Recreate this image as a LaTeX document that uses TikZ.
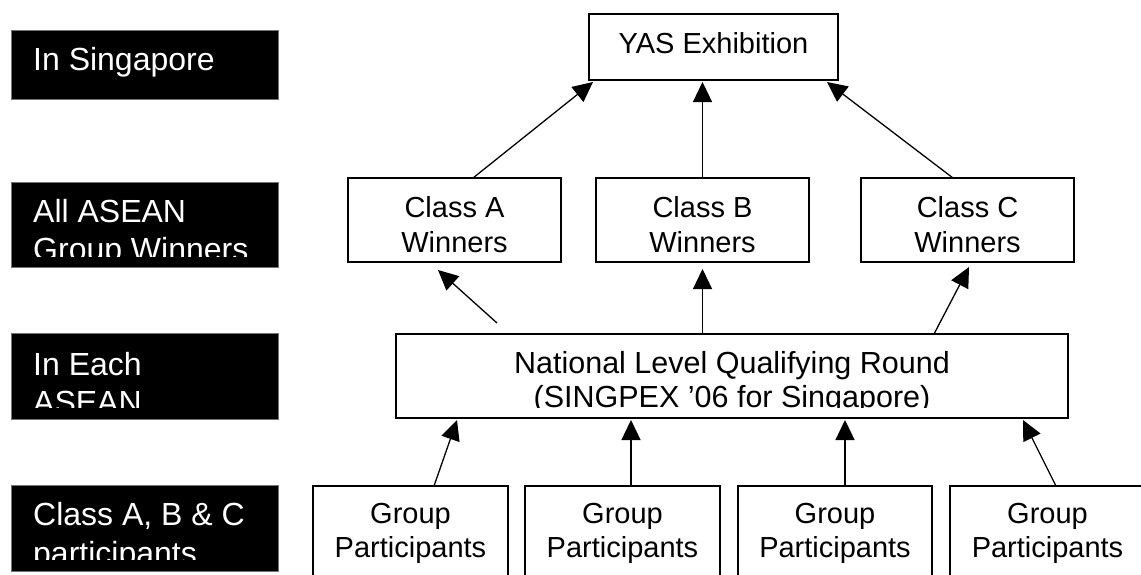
\documentclass[tikz,border=0pt]{standalone}
\usepackage{fontspec}
\setmainfont{Liberation Sans}
\usetikzlibrary{arrows.meta,calc}
\begin{document}
\begin{tikzpicture}[x=1pt,y=-1pt,
  box/.style={draw=black,line width=1.4pt,fill=white,inner sep=0pt,outer sep=0pt},
  lbl/.style={fill=black,draw=black!55,line width=0.5pt,inner sep=0pt,outer sep=0pt,minimum width=267pt},
  btxt/.style={font=\fontsize{29}{35}\selectfont,anchor=base,inner sep=0pt},
  ntxt/.style={font=\fontsize{30.5}{35}\selectfont,anchor=base,inner sep=0pt},
  ltxt/.style={font=\fontsize{32}{38}\selectfont,text=white,anchor=base west,inner sep=0pt},
  arr/.style={line width=1.3pt,-{Triangle[length=20pt,width=19pt]}}]
\useasboundingbox (0,0) rectangle (1141,574);
\clip (0,0) rectangle (1141,574);

% left labels
\node[lbl,minimum height=69pt] (l1) at (144.5,64.5) {};
\node[lbl,minimum height=85pt] (l2) at (144.5,224.5) {};
\node[lbl,minimum height=86pt] (l3) at (144.5,376) {};
\node[lbl,minimum height=86pt] (l4) at (144.5,528) {};
\node[ltxt] (l1a) at (33,70) {In Singapore};
\begin{scope}
  \clip (11,182) rectangle (278,256);
  \node[ltxt] (l2a) at (33,222) {All ASEAN};
  \node[ltxt] (l2b) at (33,260) {Group Winners};
\end{scope}
\begin{scope}
  \clip (11,333) rectangle (278,407);
  \node[ltxt] (l3a) at (33,375) {In Each};
  \node[ltxt] (l3b) at (33,413.5) {ASEAN};
\end{scope}
\begin{scope}
  \clip (11,485) rectangle (278,559);
  \node[ltxt] (l4a) at (33,525) {Class A, B \& C};
  \node[ltxt] (l4b) at (33,564) {participants};
\end{scope}

% boxes
\node[box,minimum width=249pt,minimum height=66pt] (yas) at (713.5,47) {};
\node[btxt] (tyas) at (713.5,53) {YAS Exhibition};

\node[box,minimum width=213pt,minimum height=84pt] (clsA) at (454.5,220) {};
\node[box,minimum width=213pt,minimum height=84pt] (clsB) at (702.5,220) {};
\node[box,minimum width=213pt,minimum height=84pt] (clsC) at (967.5,220) {};
\begin{scope}
  \clip (300,180) rectangle (1141,254);
  \node[btxt] (tA1) at (454.5,217) {Class A};
  \node[btxt] (tA2) at (454.5,252) {Winners};
  \node[btxt] (tB1) at (702.5,217) {Class B};
  \node[btxt] (tB2) at (702.5,252) {Winners};
  \node[btxt] (tC1) at (967.5,217) {Class C};
  \node[btxt] (tC2) at (967.5,252) {Winners};
\end{scope}

\node[box,minimum width=672pt,minimum height=84pt] (nat) at (732,376) {};
\begin{scope}
  \clip (397,335) rectangle (1067,407);
  \node[ntxt] (tn1) at (732,373) {National Level Qualifying Round};
  \node[ntxt] (tn2) at (732,407) {(SINGPEX ’06 for Singapore)};
\end{scope}

\node[box,minimum width=195pt,minimum height=120pt] (grp1) at (410.5,546) {};
\node[box,minimum width=195pt,minimum height=120pt] (grp2) at (622.5,546) {};
\node[box,minimum width=194pt,minimum height=120pt] (grp3) at (835,546) {};
\node[box,minimum width=195pt,minimum height=120pt] (grp4) at (1047.5,546) {};
\node[btxt] (g1a) at (410.5,523) {Group};
\node[btxt] (g1b) at (410.5,557) {Participants};
\node[btxt] (g2a) at (622.5,523) {Group};
\node[btxt] (g2b) at (622.5,557) {Participants};
\node[btxt] (g3a) at (835,523) {Group};
\node[btxt] (g3b) at (835,557) {Participants};
\node[btxt] (g4a) at (1047.5,523) {Group};
\node[btxt] (g4b) at (1047.5,557) {Participants};

% arrows to YAS
\draw[arr] ($(clsA.north west)+(125,0)$) -- ($(yas.south west)+(4,2)$);
\draw[arr] (clsB.north) -- ($(clsB.north |- yas.south)+(0,2)$);
\draw[arr] ($(clsC.north west)+(92,0)$) -- ($(yas.south east)+(-11,2)$);

% arrows from national
\draw[arr] ($(nat.north west)+(101,-11)$) -- ($(clsA.south west)+(90,8)$);
\draw[arr] (clsB.south |- nat.north) -- ($(clsB.south)+(0,7)$);
\draw[arr] ($(nat.north west)+(538,0)$) -- ($(clsC.south west)+(108,5)$);

% arrows from groups
\draw[arr] ($(grp1.north west)+(121,0)$) -- ($(nat.south west)+(61,2)$);
\draw[arr] ($(grp2.north west)+(106,0)$) -- ($(nat.south west)+(235,2)$);
\draw[arr] ($(grp3.north west)+(107,0)$) -- ($(nat.south west)+(449,2)$);
\draw[arr] ($(grp4.north west)+(106,0)$) -- ($(nat.south west)+(627,2)$);
\end{tikzpicture}
\end{document}
